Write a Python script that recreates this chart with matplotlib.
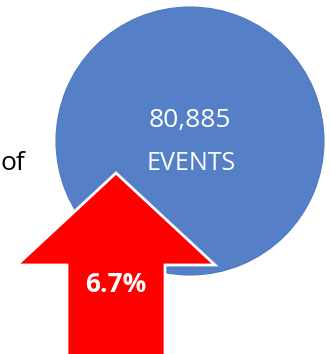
import matplotlib
matplotlib.use("Agg")
import matplotlib.pyplot as plt
from matplotlib.patches import FancyArrow

total_events = 80885
change_pct = 6.7
pie_values = [total_events]
pie_colors = ["#5580C8"]
arrow_color = "#FF0000"

W, H = 330, 354
fig = plt.figure(figsize=(W / 100, H / 100), dpi=100)
ax = fig.add_axes([0, 0, 1, 1])

font = ["Open Sans", "DejaVu Sans"]

# single-slice pie (the "events" circle)
ax.pie(pie_values, colors=pie_colors, center=(190, 141), radius=134,
       startangle=90, frame=True,
       wedgeprops=dict(edgecolor="#4F78C0", linewidth=0.8))
ax.set_xlim(0, W)
ax.set_ylim(H, 0)
ax.set_aspect("auto")
ax.axis("off")

ax.text(190, 121, f"{total_events:,}", color="white", fontsize=19,
        ha="center", va="center", family=font)
ax.text(191, 163, "EVENTS", color="white", fontsize=18,
        ha="center", va="center", family=font)

# up arrow
arrow = FancyArrow(116, 360, 0, -187, width=98, head_width=198,
                   head_length=92, length_includes_head=True,
                   facecolor=arrow_color, edgecolor="white", linewidth=2,
                   zorder=5)
ax.add_patch(arrow)
ax.text(116, 284, f"{change_pct}%", color="white", fontsize=19,
        fontweight="bold", ha="center", va="center", family=font, zorder=6)

ax.text(25, 163, "of", color="black", fontsize=19, ha="right",
        va="center", family=font)

fig.savefig("out.png", dpi=100)
